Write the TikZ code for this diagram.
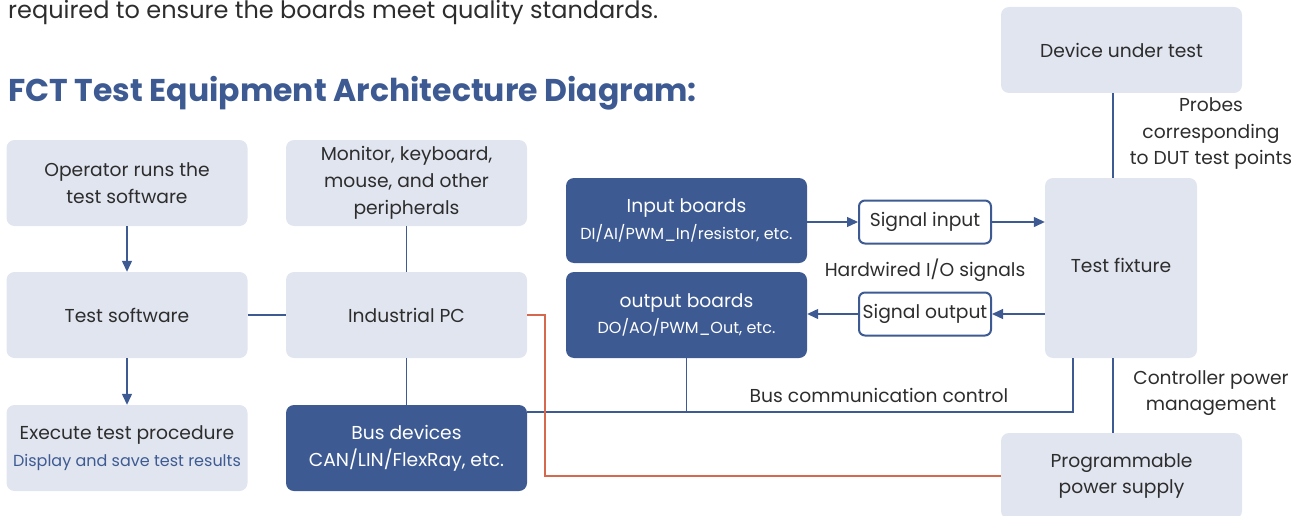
\documentclass[tikz,border=0pt]{standalone}
\usepackage{fontspec}
\setmainfont{Poppins}
\definecolor{fctblue}{RGB}{61,90,146}
\definecolor{fctlight}{RGB}{225,229,240}
\definecolor{fcttext}{RGB}{45,45,45}
\definecolor{fctred}{RGB}{214,104,78}
\usetikzlibrary{arrows.meta,positioning}

\begin{document}
\begin{tikzpicture}[x=1pt,y=-1pt,
  lightbox/.style={fill=fctlight,rounded corners=8pt,minimum width=241pt,minimum height=86pt,align=center,text=fcttext,font=\fontsize{18.7}{26.8}\selectfont},
  darkbox/.style={lightbox,fill=fctblue,text=white},
  sigbox/.style={draw=fctblue,line width=2pt,fill=white,rounded corners=6pt,minimum width=132pt,minimum height=43pt,inner sep=2pt,text=fcttext,font=\fontsize{18.7}{20}\selectfont},
  note/.style={text=fcttext,align=center,font=\fontsize{18.7}{26.5}\selectfont},
  link/.style={fctblue,line width=1.3pt},
  arrow/.style={link,-{Triangle[length=11pt,width=10pt]}}]
  \useasboundingbox (0,0) rectangle (1305,516);
  % heading
  \node[anchor=base west,inner sep=0pt,text=fcttext,font=\fontsize{24}{28}\selectfont] (intro) at (8,19) {required to ensure the boards meet quality standards.};
  \node[anchor=base west,inner sep=0pt,text=fctblue,font=\fontsize{31.5}{36}\selectfont\bfseries] (title) at (8,102) {FCT Test Equipment Architecture Diagram:};
  % software column
  \node[lightbox] (oper) at (127,183) {Operator runs the\\test software};
  \node[lightbox] (soft) at (127,315) {Test software};
  \node[lightbox] (exec) at (127,448) {Execute test procedure\\{\color{fctblue}\fontsize{16}{26.8}\selectfont Display and save test results}};
  % PC column
  \node[lightbox] (periph) at (406.5,183) {Monitor, keyboard,\\mouse, and other\\peripherals};
  \node[lightbox] (ipc) at (406.5,315) {Industrial PC};
  \node[darkbox] (busdev) at (406.5,448) {Bus devices\\CAN/LIN/FlexRay, etc.};
  % I/O boards
  \node[darkbox,minimum height=85pt] (inboard) at (686.5,220.5) {Input boards\\{\fontsize{16}{26.8}\selectfont DI/AI/PWM\_In/resistor, etc.}};
  \node[darkbox] (outboard) at (686.5,315) {output boards\\{\fontsize{16}{26.8}\selectfont DO/AO/PWM\_Out, etc.}};
  \node[sigbox] (sigin) at (925,222) {Signal input};
  \node[sigbox] (sigout) at (925,314) {Signal output};
  \node[note] (hardwired) at (925,270) {Hardwired I/O signals};
  % fixture side
  \node[lightbox,minimum width=152pt,minimum height=180pt] (fixture) at (1121,268) {\raisebox{5pt}{Test fixture}};
  \node[lightbox] (dut) at (1121.5,50) {Device under test};
  \node[lightbox] (psu) at (1121.5,476) {Programmable\\power supply};
  \node[note] (probes) at (1211,134) {Probes\\corresponding\\to DUT test points};
  \node[note] (powerctl) at (1211,393) {Controller power\\management};
  \node[note] (buscomm) at (879,395) {Bus communication control};
  % connectors
  \draw[arrow] (oper) -- (soft);
  \draw[arrow] (soft) -- (exec);
  \draw[link] (soft) -- (ipc);
  \draw[link] (periph) -- (ipc);
  \draw[link] (ipc) -- (busdev);
  \draw[arrow] (inboard.east |- sigin) -- (sigin);
  \draw[arrow] (sigin) -- (fixture.west |- sigin);
  \draw[arrow] (fixture.west |- sigout) -- (sigout);
  \draw[arrow] (sigout) -- (outboard.east |- sigout);
  \coordinate (probeline) at (1113,0);
  \draw[link] (dut.south -| probeline) -- (fixture.north -| probeline);
  \draw[link] (fixture.south -| probeline) -- (psu.north -| probeline);
  \coordinate (buscorner) at (1073,412);
  \draw[link] (busdev.east |- buscorner) -- (buscorner) -- (buscorner |- fixture.south);
  \draw[link] (outboard.south) -- (outboard.south |- buscorner);
  \coordinate (powerbend) at (545,0);
  \draw[fctred,line width=1.3pt] (ipc.east) -- (ipc.east -| powerbend) -- (powerbend |- psu) -- (psu.west);
\end{tikzpicture}
\end{document}
